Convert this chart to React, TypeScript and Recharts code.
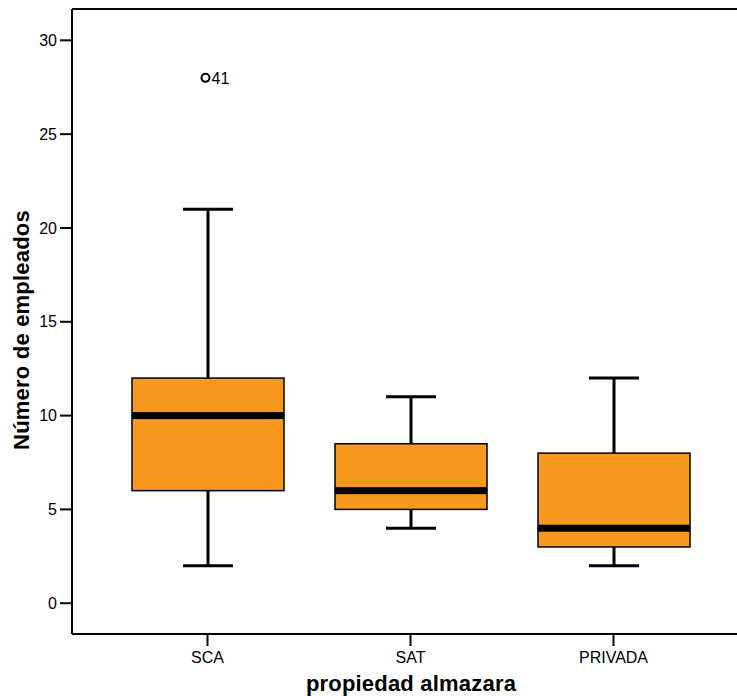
import React from "react";
import { ComposedChart, Bar, XAxis, YAxis, ReferenceLine, ReferenceDot } from "recharts";

const categories = ["SCA", "SAT", "PRIVADA"];
const whiskerLow = [2, 4, 2];
const q1 = [6, 5, 3];
const median = [10, 6, 4];
const q3 = [12, 8.5, 8];
const whiskerHigh = [21, 11, 12];
const outlierCategories = ["SCA"];
const outlierValues = [28];
const outlierLabels = ["41"];
const yTicks = [0, 5, 10, 15, 20, 25, 30];
const yDomain: [number, number] = [-1.64, 31.67];

const data = categories.map((c, i) => ({
  name: c,
  base: whiskerLow[i],
  lower: q1[i] - whiskerLow[i],
  boxLow: median[i] - q1[i],
  boxHigh: q3[i] - median[i],
  upper: whiskerHigh[i] - q3[i],
}));

const FONT = "'Liberation Sans', Arial, sans-serif";
const ORANGE = "#F7981F";
const CAP = 50;

const Empty = () => null;

const LowerWhisker = (p: any) => {
  const cx = p.x + p.width / 2;
  return (
    <g>
      <line x1={cx} x2={cx} y1={p.y} y2={p.y + p.height} stroke="#000" strokeWidth={3} />
      <line x1={cx - CAP / 2} x2={cx + CAP / 2} y1={p.y + p.height} y2={p.y + p.height} stroke="#000" strokeWidth={3} />
    </g>
  );
};

const UpperWhisker = (p: any) => {
  const cx = p.x + p.width / 2;
  return (
    <g>
      <line x1={cx} x2={cx} y1={p.y} y2={p.y + p.height} stroke="#000" strokeWidth={3} />
      <line x1={cx - CAP / 2} x2={cx + CAP / 2} y1={p.y} y2={p.y} stroke="#000" strokeWidth={3} />
    </g>
  );
};

const BoxLow = (p: any) => (
  <rect x={p.x} y={p.y} width={p.width} height={p.height} fill={ORANGE} stroke="#000" strokeWidth={1.5} />
);

const BoxHigh = (p: any) => (
  <g>
    <rect x={p.x} y={p.y} width={p.width} height={p.height} fill={ORANGE} stroke="#000" strokeWidth={1.5} />
    <rect x={p.x} y={p.y + p.height - 3.5} width={p.width} height={7} fill="#000" />
  </g>
);

const XTitle = (props: any) => (
  <text x={411} y={691} textAnchor="middle" fontFamily={FONT} fontWeight="bold" fontSize={22} letterSpacing={0.2} fill="#000">
    {props.value}
  </text>
);

const YTitle = (props: any) => (
  <text
    x={29}
    y={330}
    transform="rotate(-90 29 330)"
    textAnchor="middle"
    fontFamily={FONT}
    fontWeight="bold"
    fontSize={22}
    letterSpacing={0.2}
    fill="#000"
  >
    {props.value}
  </text>
);

export default function App() {
  return (
    <div style={{ position: "absolute", left: 0, top: 0, width: 737, height: 696, overflow: "hidden", background: "#fff" }}>
      <ComposedChart width={760} height={696} data={data} margin={{ top: 9, right: 11, bottom: 0, left: 0 }}>
        <XAxis
          dataKey="name"
          padding={{ left: 34, right: 34 }}
          height={62}
          tickSize={12}
          tickMargin={6}
          axisLine={{ stroke: "#000", strokeWidth: 2 }}
          tickLine={{ stroke: "#000", strokeWidth: 2 }}
          tick={{ fill: "#000", fontSize: 16, fontFamily: FONT }}
          label={{ value: "propiedad almazara", content: XTitle }}
        />
        <YAxis
          type="number"
          domain={yDomain}
          ticks={yTicks}
          allowDataOverflow
          width={72}
          tickSize={12}
          tickMargin={3}
          axisLine={{ stroke: "#000", strokeWidth: 2 }}
          tickLine={{ stroke: "#000", strokeWidth: 2 }}
          tick={{ fill: "#000", fontSize: 16, fontFamily: FONT }}
          label={{ value: "Número de empleados", content: YTitle }}
        />
        <ReferenceLine y={yDomain[1]} stroke="#000" strokeWidth={2} />
        <Bar dataKey="base" stackId="a" barSize={152} shape={<Empty />} isAnimationActive={false} />
        <Bar dataKey="lower" stackId="a" barSize={152} shape={<LowerWhisker />} isAnimationActive={false} />
        <Bar dataKey="boxLow" stackId="a" barSize={152} shape={<BoxLow />} isAnimationActive={false} />
        <Bar dataKey="boxHigh" stackId="a" barSize={152} shape={<BoxHigh />} isAnimationActive={false} />
        <Bar dataKey="upper" stackId="a" barSize={152} shape={<UpperWhisker />} isAnimationActive={false} />
        {outlierCategories.map((c, i) => (
          <ReferenceDot
            key={c}
            x={c}
            y={outlierValues[i]}
            r={4}
            shape={(p: any) => (
              <g>
                <circle cx={p.cx - 2} cy={p.cy} r={4} fill="none" stroke="#000" strokeWidth={2} />
                <text x={p.cx + 4} y={p.cy + 6} fontFamily={FONT} fontSize={16} fill="#000">
                  {outlierLabels[i]}
                </text>
              </g>
            )}
          />
        ))}
      </ComposedChart>
    </div>
  );
}
